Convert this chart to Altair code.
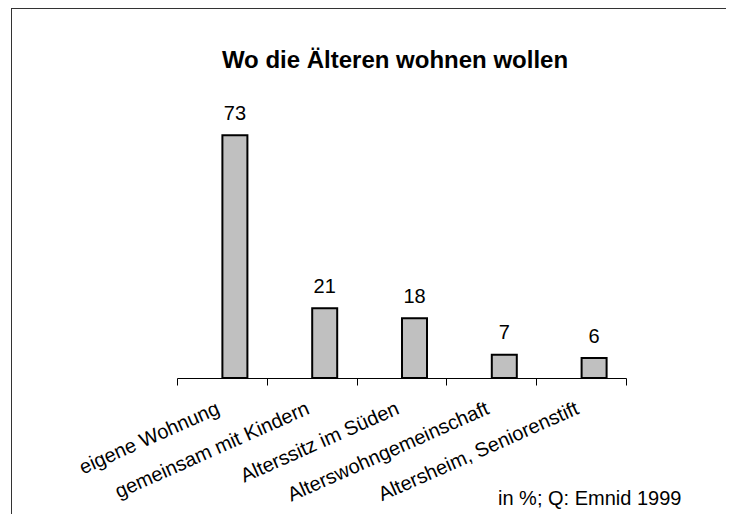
import altair as alt
import pandas as pd

categories = ["eigene Wohnung", "gemeinsam mit Kindern", "Alterssitz im Süden",
              "Alterswohngemeinschaft", "Altersheim, Seniorenstift"]
values = [73, 21, 18, 7, 6]
title_text = "Wo die Älteren wohnen wollen"
note_text = "in %; Q: Emnid 1999"

FONT = "Liberation Sans, Arial, Helvetica, sans-serif"

df = pd.DataFrame({"cat": categories, "val": values})

x_enc = alt.X("cat:N", sort=None,
              scale=alt.Scale(paddingInner=0, paddingOuter=0),
              axis=alt.Axis(title=None, domainColor="black", domainWidth=1,
                            tickColor="black", tickSize=7, tickWidth=1,
                            tickBand="extent", labelAngle=-24, labelAlign="right",
                            labelBaseline="top", labelFontSize=20, labelColor="black",
                            labelFont=FONT, labelPadding=13, labelOffset=-8,
                            labelLimit=0, labelOverlap=False, grid=False))
y_enc = alt.Y("val:Q", scale=alt.Scale(domain=[0, 80]), axis=None)

base = alt.Chart(df)

bars = base.mark_bar(size=25, xOffset=13, fill="#c0c0c0", stroke="black",
                     strokeWidth=2).encode(x=x_enc, y=y_enc)

nums = base.mark_text(dx=13, dy=-15.5, baseline="alphabetic", fontSize=20,
                      font=FONT, color="black").encode(
    x=alt.X("cat:N", sort=None), y="val:Q", text="val:Q")

one = alt.Data(values=[{"k": 1}])
top_border = alt.Chart(one).mark_rule(color="#333333", strokeWidth=1).encode(
    x=alt.value(-166), x2=alt.value(560), y=alt.value(-103.5))
left_border = alt.Chart(one).mark_rule(color="#333333", strokeWidth=1).encode(
    x=alt.value(-165.5), y=alt.value(-103.5), y2=alt.value(410))
title = alt.Chart(one).mark_text(align="center", baseline="alphabetic", fontSize=24,
                                 fontWeight="bold", font=FONT, color="black").encode(
    x=alt.value(218), y=alt.value(-44.5), text=alt.value(title_text))
note = alt.Chart(one).mark_text(align="left", baseline="alphabetic", fontSize=20,
                                font=FONT, color="black").encode(
    x=alt.value(321), y=alt.value(393), text=alt.value(note_text))

chart = alt.layer(top_border, left_border, title, bars, nums, note).properties(
    width=449, height=266,
    autosize=alt.AutoSizeParams(type="none"),
    padding={"left": 169, "top": 104, "right": 100, "bottom": 136},
).configure(background="white", view=alt.ViewConfig(strokeWidth=0, stroke="transparent"))

chart.save("out.html", embed_options={"renderer": "svg", "actions": False})
